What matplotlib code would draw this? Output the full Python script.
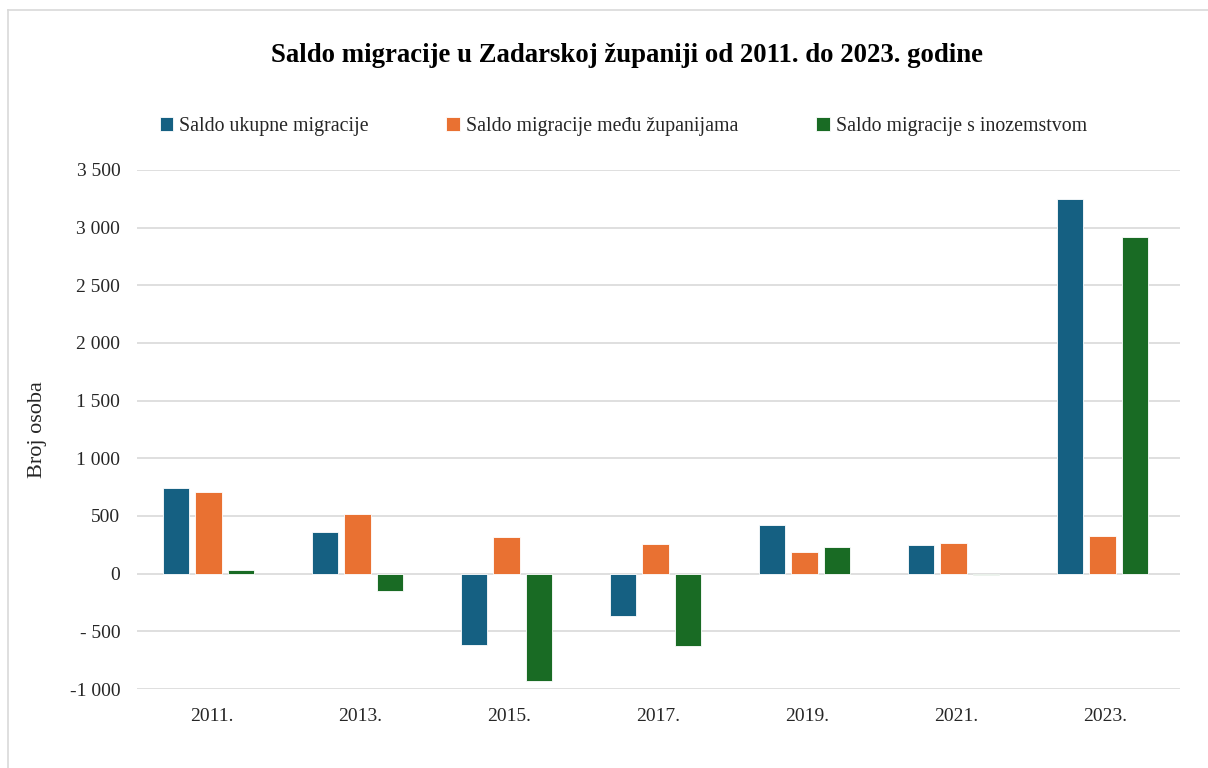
import matplotlib
matplotlib.use("Agg")
import matplotlib.pyplot as plt
import numpy as np
from matplotlib.lines import Line2D

years = ["2011.", "2013.", "2015.", "2017.", "2019.", "2021.", "2023."]
series_names = ["Saldo ukupne migracije", "Saldo migracije među županijama", "Saldo migracije s inozemstvom"]
ukupno = [741, 363, -615, -371, 423, 250, 3248]
zupanije = [711, 517, 314, 258, 191, 264, 326]
inozemstvo = [30, -154, -929, -629, 232, -14, 2922]
ytick_vals = [-1000, -500, 0, 500, 1000, 1500, 2000, 2500, 3000, 3500]
ytick_labels = ["-1 000", "- 500", "0", "500", "1 000", "1 500", "2 000", "2 500", "3 000", "3 500"]
colors = ["#156082", "#E97132", "#196B24"]

plt.rcParams['font.family'] = ['Liberation Serif', 'DejaVu Serif']

fig = plt.figure(figsize=(12.08, 7.68), dpi=100)
ax = fig.add_axes([137/1208, 1-689/768, (1180-137)/1208, (689-170)/768])

x = np.arange(len(years))
w = 0.175
step = 0.221
for i, (vals, name, c) in enumerate(zip([ukupno, zupanije, inozemstvo], series_names, colors)):
    ax.bar(x + (i-1)*step - 0.02, vals, width=w, color=c, label=name, edgecolor='white', linewidth=0.6, zorder=3)

ax.set_xlim(-0.5, len(years)-0.5)
ax.set_ylim(-1000, 3500)
ax.set_yticks(ytick_vals)
ax.set_yticklabels(ytick_labels, fontsize=14)
ax.set_xticks(x)
ax.set_xticklabels(years, fontsize=14)
ax.tick_params(axis='both', length=0, colors='#262626')
ax.tick_params(axis='y', pad=12)
ax.tick_params(axis='x', pad=14)
for s in ax.spines.values():
    s.set_visible(False)
ax.grid(axis='y', color='#d9d9d9', linewidth=1.2, zorder=0)
ax.set_axisbelow(True)
ax.set_ylabel("Broj osoba", fontsize=16, color='#262626', labelpad=16)

fig.text(627/1208, 1-55/768, "Saldo migracije u Zadarskoj županiji od 2011. do 2023. godine",
         ha='center', va='center', fontsize=19.3, fontweight='bold', color='black')

leg = fig.legend(loc='center', bbox_to_anchor=(0.516, 1-126/768), ncol=3, frameon=False,
                 fontsize=14.3, handlelength=0.7, handleheight=0.7, handletextpad=0.3,
                 columnspacing=3.9, labelcolor='#262626')

fig.add_artist(Line2D([8/1208, 8/1208], [0, 1-10/768], transform=fig.transFigure,
                      color='#d9d9d9', linewidth=1.2))
fig.add_artist(Line2D([8/1208, 1], [1-10/768, 1-10/768], transform=fig.transFigure,
                      color='#d9d9d9', linewidth=1.2))

fig.savefig("out.png", dpi=100, facecolor='white')
